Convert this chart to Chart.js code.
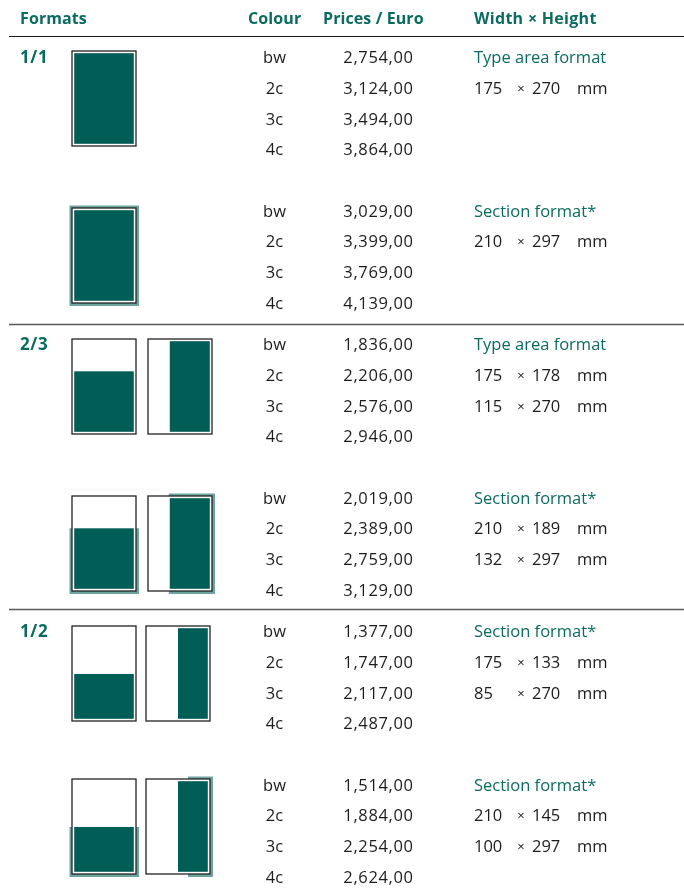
<!DOCTYPE html>
<html>
<head>
<meta charset="utf-8">
<script src="https://cdn.jsdelivr.net/npm/chart.js@4.4.0/dist/chart.umd.min.js"></script>
<style>
html,body{margin:0;padding:0;background:#fff;}
#wrap{width:684px;height:893px;position:relative;}
</style>
</head>
<body>
<div id="wrap"><canvas id="c"></canvas></div>
<script>
// ---------- DATA ----------
const headers = ['Formats', 'Colour', 'Prices / Euro', 'Width \u00d7 Height'];
const formats = ['1/1', '2/3', '1/2'];
const colours = ['bw', '2c', '3c', '4c'];
const prices11Type = [2754, 3124, 3494, 3864];
const prices11Section = [3029, 3399, 3769, 4139];
const prices23Type = [1836, 2206, 2576, 2946];
const prices23Section = [2019, 2389, 2759, 3129];
const prices12Type = [1377, 1747, 2117, 2487];
const prices12Section = [1514, 1884, 2254, 2624];
const blockLabels = ['Type area format', 'Section format*', 'Type area format', 'Section format*', 'Section format*', 'Section format*'];
const dims11Type = [[175, 270]];
const dims11Section = [[210, 297]];
const dims23Type = [[175, 178], [115, 270]];
const dims23Section = [[210, 189], [132, 297]];
const dims12Type = [[175, 133], [85, 270]];
const dims12Section = [[210, 145], [100, 297]];

const blockPrices = [prices11Type, prices11Section, prices23Type, prices23Section, prices12Type, prices12Section];
const blockDims = [dims11Type, dims11Section, dims23Type, dims23Section, dims12Type, dims12Section];

// ---------- LAYOUT / STYLE ----------
const TEAL = '#005e56';
const TEAL_TXT = '#0b6b5f';
const BLEED = '#6ea4a0';
const INK = '#1c1c1c';
const FONT = '"Open Sans", "Noto Sans", sans-serif';
const ROW_PX = 30.8, BASE_PX = 63;             // y scale in row units, row 0 baseline at 63px
const BLOCK_ROWS = 153.5 / ROW_PX;
const SECTION_ROWS = 287 / ROW_PX;
const PAGE_H = 95 / ROW_PX;
// icon layout per section (page top in px for the two blocks)
const iconLayout = [
  {tops: [51, 208], icons: [{x: 72, kind: 'full'}]},
  {tops: [339, 496], icons: [{x: 72, kind: 'h', f: 0.34}, {x: 148, kind: 'v', f: 0.34, bl: -1}]},
  {tops: [626, 779], icons: [{x: 72, kind: 'h', f: 0.505}, {x: 146, kind: 'v', f: 0.5, bl: 10}]}
];
const COL = {fmt: 20, colour: 274.5, price: 413, label: 474, w: 474, x: 521, h: 532, mm: 577};

function fmtPrice(v) {
  return v.toLocaleString('en-US') + ',00';
}

const tablePlugin = {
  id: 'table',
  afterDraw(chart) {
    const ctx = chart.ctx;
    const X = v => chart.scales.x.getPixelForValue(v);
    const Y = v => chart.scales.y.getPixelForValue(v);
    const px = p => (p - BASE_PX) / ROW_PX;
    ctx.save();
    ctx.textBaseline = 'alphabetic';

    // header
    ctx.fillStyle = TEAL_TXT;
    ctx.font = 'bold 16px ' + FONT;
    ctx.letterSpacing = '0.1px';
    const hy = Y(px(24));
    ctx.textAlign = 'left';
    ctx.fillText(headers[0], X(COL.fmt), hy);
    ctx.fillText(headers[1], X(248), hy);
    ctx.fillText(headers[2], X(323), hy);
    ctx.letterSpacing = '0.3px';
    ctx.fillText(headers[3], X(COL.label), hy);
    ctx.letterSpacing = '0px';

    // header rule
    ctx.strokeStyle = '#1a1a1a';
    ctx.lineWidth = 1.2;
    ctx.beginPath();
    const ry = Math.round(Y(px(36))) + 0.5;
    ctx.moveTo(X(9), ry);
    ctx.lineTo(X(684), ry);
    ctx.stroke();

    const sepPx = [324, 609];

    formats.forEach((fmt, s) => {
      const base = s * SECTION_ROWS;
      // separator
      if (s > 0) {
        const sy = Math.round(Y(px(sepPx[s - 1]))) + 0.5;
        ctx.strokeStyle = '#5a5a5a';
        ctx.lineWidth = 1.3;
        ctx.beginPath();
        ctx.moveTo(X(9), sy);
        ctx.lineTo(X(684), sy);
        ctx.stroke();
      }
      // format label
      ctx.fillStyle = TEAL_TXT;
      ctx.font = 'bold 17px ' + FONT;
      ctx.letterSpacing = '0.6px';
      ctx.textAlign = 'left';
      ctx.fillText(fmt, X(COL.fmt), Y(base));
      ctx.letterSpacing = '0px';

      for (let b = 0; b < 2; b++) {
        const bi = s * 2 + b;
        const r0 = base + b * BLOCK_ROWS;
        // icons
        iconLayout[s].icons.forEach(ic => drawIcon(ctx, X, Y, ic, px(iconLayout[s].tops[b]), b === 1));
        // rows
        colours.forEach((c, i) => {
          const y = Y(r0 + i);
          ctx.fillStyle = INK;
          ctx.font = '16.5px ' + FONT;
          ctx.textAlign = 'center';
          ctx.letterSpacing = '0px';
          ctx.fillText(c, X(COL.colour), y);
          ctx.textAlign = 'right';
          ctx.letterSpacing = '0.65px';
          ctx.fillText(fmtPrice(blockPrices[bi][i]), X(COL.price) + 0.65, y);
          ctx.letterSpacing = '0px';
        });
        // label
        ctx.textAlign = 'left';
        ctx.fillStyle = TEAL_TXT;
        ctx.font = '16.5px ' + FONT;
        ctx.fillText(blockLabels[bi], X(COL.label), Y(r0));
        ctx.fillStyle = INK;
        blockDims[bi].forEach((d, k) => {
          const y = Y(r0 + 1 + k);
          ctx.textAlign = 'left';
          ctx.font = '16.5px ' + FONT;
          ctx.fillText(String(d[0]), X(COL.w), y);
          ctx.textAlign = 'center';
          ctx.font = '13px ' + FONT;
          ctx.fillText('\u00d7', X(COL.x), y - 1);
          ctx.font = '16.5px ' + FONT;
          ctx.textAlign = 'left';
          ctx.fillText(String(d[1]), X(COL.h), y);
          ctx.fillText('mm', X(COL.mm), y);
        });
      }
    });
    ctx.restore();
  }
};

function drawIcon(ctx, X, Y, ic, topRow, bleed) {
  const left = X(ic.x), right = X(ic.x + 64);
  const top = Y(topRow), bottom = Y(topRow + PAGE_H);
  const inset = 2.2;
  let fx0 = left + inset, fx1 = right - inset, fy0 = top + inset, fy1 = bottom - inset;
  if (ic.kind === 'h') fy0 = top + (bottom - top) * ic.f;
  if (ic.kind === 'v') fx0 = left + (right - left) * ic.f;
  if (bleed) {
    ctx.fillStyle = BLEED;
    let bx0 = left - 2.5, by0 = top - 2.5;
    if (ic.kind === 'h') by0 = fy0;
    if (ic.kind === 'v') bx0 = fx0 + (ic.bl || 0);
    ctx.fillRect(bx0, by0, right + 3 - bx0, bottom + 3 - by0);
  }
  ctx.fillStyle = '#fff';
  ctx.fillRect(left, top, right - left, bottom - top);
  ctx.strokeStyle = '#222';
  ctx.lineWidth = 1.3;
  ctx.strokeRect(left, top, right - left, bottom - top);
  ctx.fillStyle = TEAL;
  ctx.fillRect(fx0, fy0, fx1 - fx0, fy1 - fy0);
}

new Chart(document.getElementById('c'), {
  type: 'scatter',
  data: {datasets: [{data: [], pointRadius: 0}]},
  options: {
    responsive: true,
    maintainAspectRatio: false,
    animation: false,
    layout: {padding: 0},
    plugins: {legend: {display: false}, tooltip: {enabled: false}},
    scales: {
      x: {type: 'linear', min: 0, max: 684, display: false},
      y: {type: 'linear', min: -BASE_PX / ROW_PX, max: (893 - BASE_PX) / ROW_PX, reverse: true, display: false}
    }
  },
  plugins: [tablePlugin]
});
</script>
</body>
</html>
